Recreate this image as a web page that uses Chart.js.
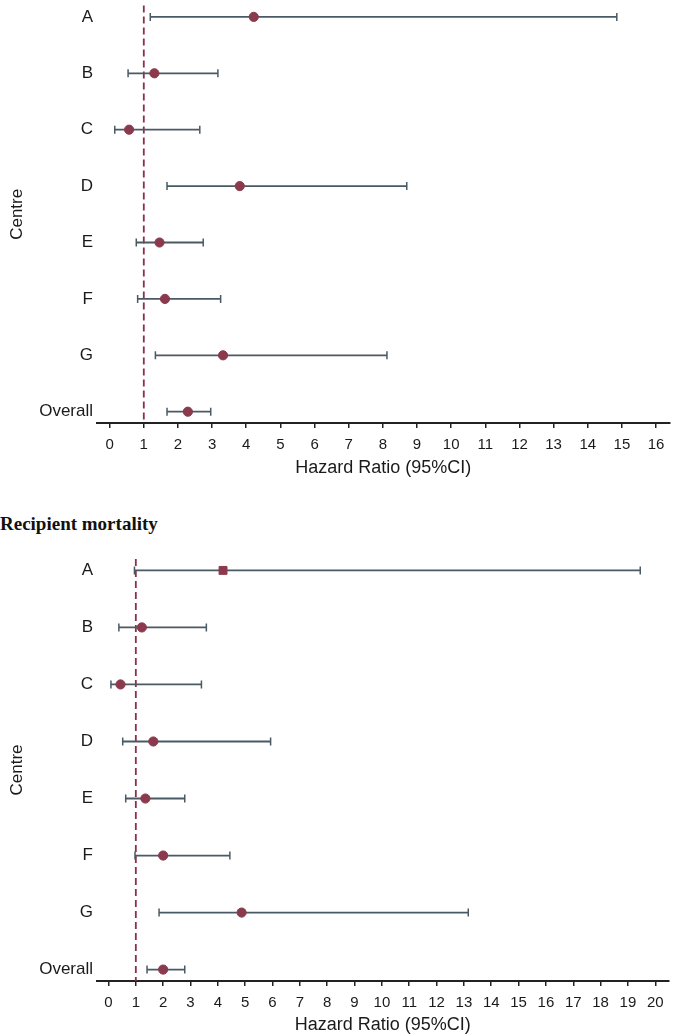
<!DOCTYPE html>
<html>
<head>
<meta charset="utf-8">
<script src="https://cdn.jsdelivr.net/npm/chart.js@4/dist/chart.umd.min.js"></script>
<style>
  html, body { margin:0; padding:0; background:#fff; }
  #wrap { position:relative; width:675px; height:1036px; overflow:hidden; }
  #c1 { position:absolute; left:0; top:0; }
  #c2 { position:absolute; left:0; top:546px; }
  #t2 { position:absolute; left:0; top:514px; font-family:"Liberation Serif","Times New Roman",serif; font-weight:bold; font-size:19px; line-height:19px; color:#111; white-space:nowrap; }
</style>
</head>
<body>
<div id="wrap">
  <canvas id="c1" width="675" height="490"></canvas>
  <div id="t2">Recipient mortality</div>
  <canvas id="c2" width="675" height="490"></canvas>
</div>
<script>
// ---- data ----
const categories = ['A', 'B', 'C', 'D', 'E', 'F', 'G', 'Overall'];

// upper panel
const hr1 = [4.22, 1.31, 0.57, 3.81, 1.46, 1.62, 3.32, 2.29];
const lo1 = [1.19, 0.54, 0.15, 1.68, 0.78, 0.82, 1.34, 1.68];
const hi1 = [14.85, 3.17, 2.64, 8.70, 2.74, 3.25, 8.12, 2.96];
const xTicks1 = [0, 1, 2, 3, 4, 5, 6, 7, 8, 9, 10, 11, 12, 13, 14, 15, 16];

// lower panel: Recipient mortality
const hr2 = [4.19, 1.22, 0.44, 1.64, 1.35, 2.00, 4.87, 2.00];
const lo2 = [0.95, 0.38, 0.09, 0.52, 0.63, 0.97, 1.85, 1.41];
const hi2 = [19.45, 3.58, 3.40, 5.93, 2.79, 4.44, 13.16, 2.79];
const xTicks2 = [0, 1, 2, 3, 4, 5, 6, 7, 8, 9, 10, 11, 12, 13, 14, 15, 16, 17, 18, 19, 20];

const refValue = 1;
const xAxisTitle = 'Hazard Ratio (95%CI)';
const yAxisTitle = 'Centre';

// ---- styles ----
const markerStyles1 = ['circle', 'circle', 'circle', 'circle', 'circle', 'circle', 'circle', 'circle'];
const markerStyles2 = ['rect', 'circle', 'circle', 'circle', 'circle', 'circle', 'circle', 'circle'];
const markerColor = '#8B3A4E';
const barColor = '#4A5A65';
const refColor = '#8B2F4C';
const textColor = '#1a1a1a';
const sansFont = '"Liberation Sans", Arial, sans-serif';

const refLine = {
  id: 'refLine',
  beforeDatasetsDraw(chart) {
    const ctx = chart.ctx;
    const x = chart.scales.x.getPixelForValue(refValue);
    const { top, bottom } = chart.chartArea;
    ctx.save();
    ctx.strokeStyle = refColor;
    ctx.lineWidth = 1.8;
    ctx.setLineDash([7, 4]);
    ctx.beginPath();
    ctx.moveTo(x, top);
    ctx.lineTo(x, bottom);
    ctx.stroke();
    ctx.restore();
  }
};

function makeChart(id, hr, lo, hi, xTicks, xMin, xMax, styles, padTop, xAxisHeight, tickPad, titlePadBottom) {
  const datasets = [];
  datasets.push({
    type: 'scatter',
    data: hr.map((v, i) => ({ x: v, y: i })),
    pointStyle: styles,
    pointRadius: styles.map(s => s === 'rect' ? 5.6 : 4.6),
    backgroundColor: markerColor,
    borderColor: markerColor,
    borderWidth: 1,
    order: 0
  });
  categories.forEach((c, i) => {
    datasets.push({
      type: 'line',
      data: [{ x: lo[i], y: i }, { x: hi[i], y: i }],
      borderColor: barColor,
      borderWidth: 1.8,
      pointStyle: 'line',
      rotation: 90,
      pointRadius: 4,
      pointBorderColor: barColor,
      pointBorderWidth: 1.5,
      fill: false,
      order: 1
    });
  });

  return new Chart(document.getElementById(id), {
    data: { datasets },
    plugins: [refLine],
    options: {
      responsive: false,
      animation: false,
      events: [],
      layout: { padding: { top: padTop, bottom: 0, left: 0, right: 0 } },
      plugins: { legend: { display: false }, tooltip: { enabled: false } },
      scales: {
        x: {
          type: 'linear',
          min: xMin,
          max: xMax,
          afterBuildTicks: s => { s.ticks = xTicks.map(v => ({ value: v })); },
          afterFit: s => { s.height = xAxisHeight; s.paddingLeft = 0; s.paddingRight = 0; },
          ticks: {
            autoSkip: false,
            maxRotation: 0,
            padding: tickPad,
            color: textColor,
            font: { family: sansFont, size: 15 },
            callback: v => String(v)
          },
          grid: {
            drawOnChartArea: false,
            drawTicks: true,
            tickLength: 5,
            tickColor: '#222',
            lineWidth: 1.5
          },
          border: { display: true, color: '#222', width: 2 },
          title: {
            display: true,
            text: xAxisTitle,
            color: textColor,
            font: { family: sansFont, size: 18 },
            padding: { top: 0, bottom: titlePadBottom }
          }
        },
        y: {
          type: 'linear',
          reverse: true,
          min: -0.2,
          max: 7.2,
          afterBuildTicks: s => { s.ticks = categories.map((c, i) => ({ value: i })); },
          afterFit: s => { s.width = 97; s.paddingTop = 0; s.paddingBottom = 0; },
          ticks: {
            autoSkip: false,
            padding: 4,
            color: textColor,
            font: { family: sansFont, size: 17 },
            callback: v => categories[v]
          },
          grid: { display: false, drawTicks: false },
          border: { display: false },
          title: {
            display: true,
            text: yAxisTitle,
            color: textColor,
            font: { family: sansFont, size: 17 },
            padding: { top: 7, bottom: 0 }
          }
        }
      }
    }
  });
}

makeChart('c1', hr1, lo1, hi1, xTicks1, -0.37, 16.39, markerStyles1, 0, 67, 8, 11);
makeChart('c2', hr2, lo2, hi2, xTicks2, -0.42, 20.48, markerStyles2, 13, 55, 8, 0);
</script>
</body>
</html>
